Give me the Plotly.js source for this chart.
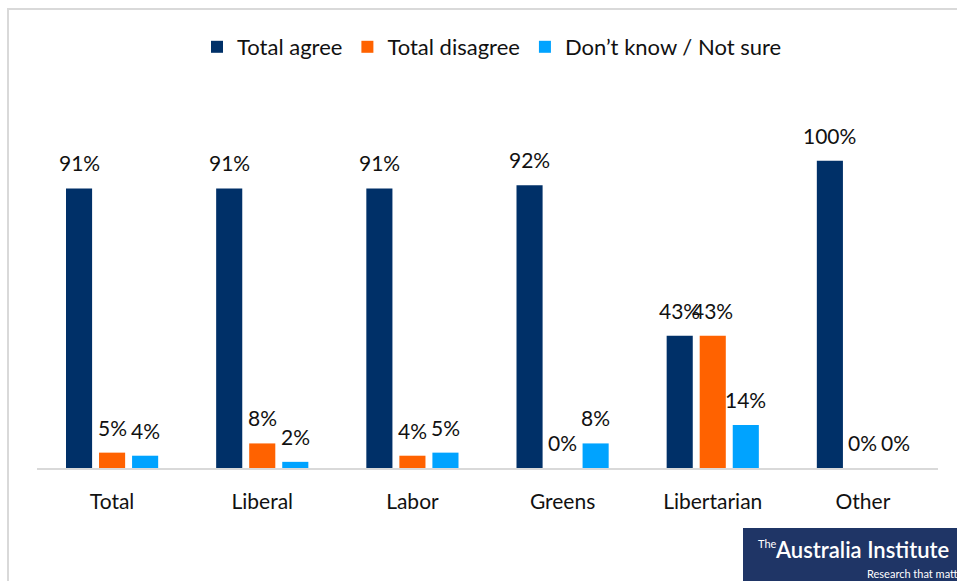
<!DOCTYPE html>
<html>
<head>
<meta charset="utf-8">
<script src="https://cdn.plot.ly/plotly-3.0.1.min.js"></script>
<style>
html,body{margin:0;padding:0;background:#fff;}
#wrap{position:relative;width:957px;height:581px;overflow:hidden;}
#chart{position:absolute;left:0;top:0;width:957px;height:581px;}
#frame{position:absolute;left:7px;top:8px;width:1000px;height:700px;border-left:2px solid #d9d9d9;border-top:2px solid #d9d9d9;pointer-events:none;}
</style>
</head>
<body>
<div id="wrap"><div id="chart"></div><div id="frame"></div></div>
<script>
const categories = ["Total", "Liberal", "Labor", "Greens", "Libertarian", "Other"];
const seriesNames = ["Total agree", "Total disagree", "Don\u2019t know / Not sure"];
const totalAgree = [91, 91, 91, 92, 43, 100];
const totalDisagree = [5, 8, 4, 0, 43, 0];
const dontKnow = [4, 2, 5, 8, 14, 0];
const colors = ["#003068", "#FF6200", "#00A3FF"];

const seriesValues = [totalAgree, totalDisagree, dontKnow];
const FONT = "Lato, 'Noto Sans', sans-serif";

const traces = seriesValues.map((vals, i) => ({
  type: "bar",
  name: seriesNames[i],
  x: categories,
  y: vals,
  marker: {color: colors[i]},
  hoverinfo: "none"
}));

const annotations = [];
seriesValues.forEach((vals, i) => {
  vals.forEach((v, j) => {
    annotations.push({
      x: categories[j], y: v, xref: "x", yref: "y",
      text: v + "%", showarrow: false,
      xanchor: "center", yanchor: "bottom",
      xshift: (i - 1) * 33, yshift: 11,
      font: {family: FONT, size: 21, color: "#111"}
    });
  });
});

// logo
const px = v => (v - 37) / 901;
const py = v => (468 - v) / 338;
annotations.push({
  xref: "paper", yref: "paper", x: px(756), y: py(543), xanchor: "left", yanchor: "middle",
  text: "The", showarrow: false, font: {family: FONT, size: 11, color: "#fff"}
});
annotations.push({
  xref: "paper", yref: "paper", x: px(773), y: py(549), xanchor: "left", yanchor: "middle",
  text: "Australia Institute", showarrow: false, font: {family: FONT, size: 22, color: "#fff", weight: 600}
});
annotations.push({
  xref: "paper", yref: "paper", x: px(865), y: py(573), xanchor: "left", yanchor: "middle",
  text: "Research that matters", showarrow: false, font: {family: FONT, size: 11, color: "#fff"}
});

const layout = {
  width: 957, height: 581,
  margin: {l: 37, r: 19, t: 130, b: 113},
  paper_bgcolor: "#fff", plot_bgcolor: "#fff",
  barmode: "group", bargap: 0.34, bargroupgap: 0.21,
  font: {family: FONT, size: 21, color: "#111"},
  showlegend: true,
  legend: {
    orientation: "h", xref: "paper", yref: "paper",
    x: 0.505, xanchor: "center", y: py(47), yanchor: "middle",
    font: {family: FONT, size: 22, color: "#111"},
    itemwidth: 30, traceorder: "normal"
  },
  xaxis: {
    type: "category", showline: true, linecolor: "#d9d9d9", linewidth: 2,
    ticks: "", showgrid: false, zeroline: false,
    ticklabelstandoff: 14,
    tickfont: {family: FONT, size: 21, color: "#111"},
    fixedrange: true
  },
  yaxis: {
    range: [0, 110], showticklabels: false, showgrid: false, zeroline: false,
    showline: false, ticks: "", fixedrange: true
  },
  shapes: [{
    type: "rect", xref: "paper", yref: "paper", layer: "above",
    x0: px(743), x1: px(960), y0: py(528), y1: py(584),
    fillcolor: "#1f3566", line: {width: 0}
  }],
  annotations: annotations
};

Plotly.newPlot("chart", traces, layout, {displayModeBar: false, staticPlot: true});
</script>
</body>
</html>
